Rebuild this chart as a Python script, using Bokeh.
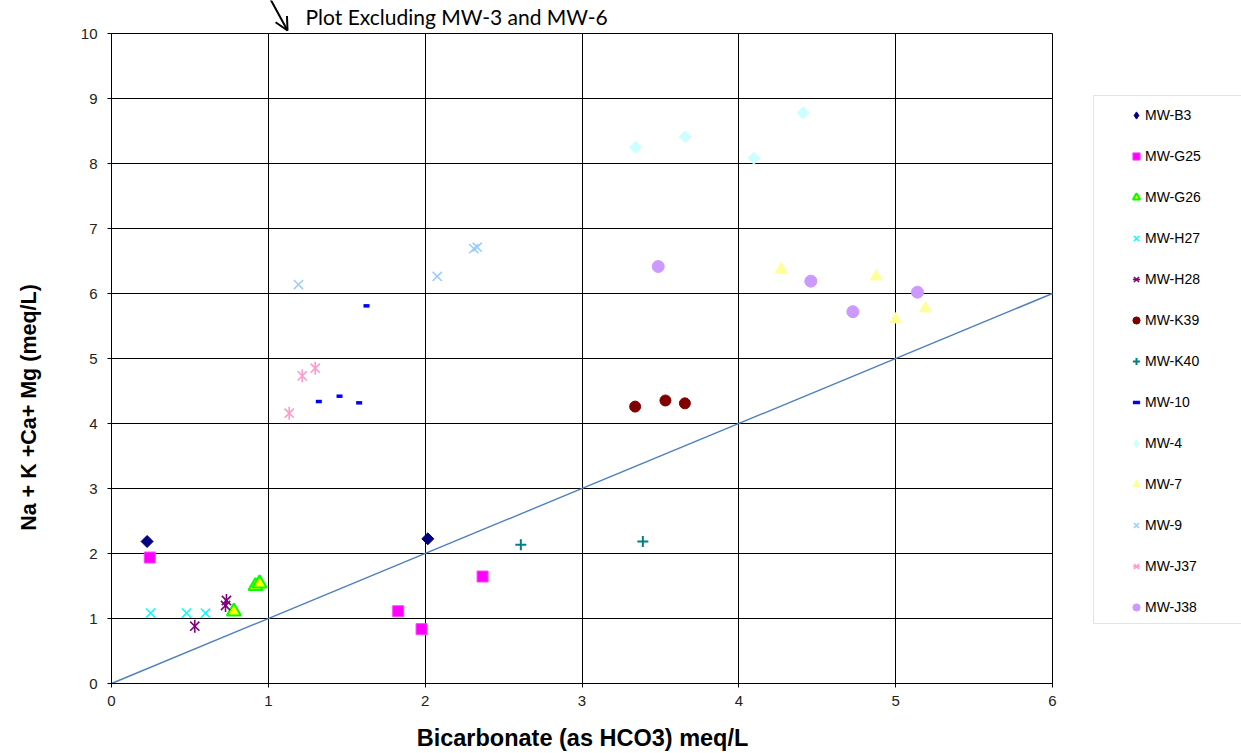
import math
from bokeh.plotting import figure
from bokeh.models import (Legend, LegendItem, Label, Arrow, OpenHead, FixedTicker,
                          Range1d, Grid, BoxAnnotation)
from bokeh.embed import file_html
from bokeh.resources import INLINE

# Bicarbonate (x) vs sum of cations (y), meq/L, one pair of lists per well
b3_x = [0.227, 2.017]
b3_y = [2.185, 2.226]
g25_x = [0.244, 1.828, 1.977, 2.366]
g25_y = [1.938, 1.112, 0.836, 1.646]
g26_x = [0.780, 0.918, 0.944]
g26_y = [1.108, 1.500, 1.540]
h27_x = [0.249, 0.478, 0.599]
h27_y = [1.082, 1.082, 1.082]
h28_x = [0.531, 0.733, 0.727]
h28_y = [0.882, 1.277, 1.200]
k39_x = [3.339, 3.532, 3.656]
k39_y = [4.260, 4.354, 4.310]
k40_x = [2.610, 3.388]
k40_y = [2.134, 2.185]
mw10_x = [1.626, 1.322, 1.454, 1.579]
mw10_y = [5.810, 4.338, 4.420, 4.318]
mw4_x = [3.341, 3.658, 4.096, 4.410]
mw4_y = [8.250, 8.410, 8.080, 8.780]
mw7_x = [4.270, 4.876, 5.000, 5.190]
mw7_y = [6.370, 6.260, 5.600, 5.770]
mw9_x = [1.192, 2.077, 2.310, 2.332]
mw9_y = [6.138, 6.262, 6.690, 6.712]
j37_x = [1.133, 1.216, 1.299]
j37_y = [4.159, 4.733, 4.851]
j38_x = [3.486, 4.459, 4.727, 5.139]
j38_y = [6.415, 6.190, 5.720, 6.020]

# 1:1 reference line
line_x = [0, 6]
line_y = [0, 6]

x_ticks = [0, 1, 2, 3, 4, 5, 6]
y_ticks = [0, 1, 2, 3, 4, 5, 6, 7, 8, 9, 10]
x_bounds = (0, 6)
y_bounds = (0, 10)

FONT = "Liberation Sans"
W, H = 1241, 753
# plotting box inside the canvas (pixels from the left / from the top)
BOX_L, BOX_R, BOX_T, BOX_B = 111, 1052, 33, 683

# the frame fills the whole canvas; the axes sit at fixed data locations
px_x = (BOX_R - BOX_L) / (x_bounds[1] - x_bounds[0])
px_y = (BOX_B - BOX_T) / (y_bounds[1] - y_bounds[0])
x_range = Range1d(x_bounds[0] - BOX_L / px_x, x_bounds[1] + (W - BOX_R) / px_x)
y_range = Range1d(y_bounds[0] - (H - BOX_B) / px_y, y_bounds[1] + BOX_T / px_y)

p = figure(width=W, height=H, output_backend="svg", toolbar_location=None,
           x_range=x_range, y_range=y_range,
           min_border=0, min_border_left=0, min_border_right=0,
           min_border_top=0, min_border_bottom=0)
p.background_fill_color = "white"
p.border_fill_color = "white"
p.outline_line_color = None

for ax, ticks, bnds in ((p.xaxis, x_ticks, x_bounds), (p.yaxis, y_ticks, y_bounds)):
    ax.fixed_location = 0
    ax.bounds = bnds
    ax.ticker = FixedTicker(ticks=ticks)
    ax.axis_line_color = "black"
    ax.major_tick_line_color = "black"
    ax.major_tick_out = 4
    ax.major_tick_in = 0
    ax.minor_tick_line_color = None
    ax.major_label_text_font = FONT
    ax.major_label_text_font_size = "15px"
    ax.major_label_text_color = "#222222"
p.xaxis.major_label_standoff = 8
p.yaxis.major_label_standoff = 10

has_cross = "cross_bounds" in Grid.properties()
for g, bnds, cross in ((p.xgrid, x_bounds, y_bounds), (p.ygrid, y_bounds, x_bounds)):
    g.bounds = bnds
    if has_cross:
        g.cross_bounds = cross
        g.grid_line_color = "black"
        g.grid_line_alpha = 1.0
        g.grid_line_width = 1
    else:
        g.grid_line_color = None
if not has_cross:
    p.segment(x0=x_ticks, y0=[y_bounds[0]] * len(x_ticks), x1=x_ticks,
              y1=[y_bounds[1]] * len(x_ticks), line_color="black", line_width=1)
    p.segment(x0=[x_bounds[0]] * len(y_ticks), y0=y_ticks, x1=[x_bounds[1]] * len(y_ticks),
              y1=y_ticks, line_color="black", line_width=1)

p.line(line_x, line_y, line_color="#4F81BD", line_width=1.4)

items = []

def add(label, renderers):
    items.append(LegendItem(label=label, renderers=renderers))

d = math.pi / 4
# diamond wells: an upright diamond (used as the legend key) under a rotated square
add("MW-B3", [p.scatter(b3_x, b3_y, marker="diamond", size=9,
                        fill_color="#000080", line_color="#000080")])
p.scatter(b3_x, b3_y, marker="square", angle=d, size=8.5,
          fill_color="#000080", line_color="#000080")
add("MW-G25", [p.scatter(g25_x, g25_y, marker="square", size=11,
                         fill_color="#FF00FF", line_color="#FF44FF")])
add("MW-G26", [p.scatter(g26_x, g26_y, marker="triangle", size=14,
                         fill_color="#FFFF00", line_color="#00FF00", line_width=2)])
add("MW-H27", [p.scatter(h27_x, h27_y, marker="x", size=13,
                         line_color="#00FFFF", line_width=1.5)])
add("MW-H28", [p.scatter(h28_x, h28_y, marker="x", size=13, line_color="#800080", line_width=1.6),
               p.scatter(h28_x, h28_y, marker="dash", angle=math.pi / 2, size=13,
                         line_color="#800080", line_width=1.6)])
add("MW-K39", [p.scatter(k39_x, k39_y, marker="circle", size=11,
                         fill_color="#800000", line_color="#800000")])
add("MW-K40", [p.scatter(k40_x, k40_y, marker="cross", size=11,
                         line_color="#008080", line_width=2)])
add("MW-10", [p.scatter(mw10_x, mw10_y, marker="dash", size=6,
                        line_color="#0000FF", line_width=3.5)])
add("MW-4", [p.scatter(mw4_x, mw4_y, marker="diamond", size=9,
                       fill_color="#CCFFFF", line_color="#CCFFFF")])
p.scatter(mw4_x, mw4_y, marker="square", angle=d, size=8.5,
          fill_color="#CCFFFF", line_color="#CCFFFF")
add("MW-7", [p.scatter(mw7_x, mw7_y, marker="triangle", size=12,
                       fill_color="#FFFF99", line_color="#FFFF99")])
add("MW-9", [p.scatter(mw9_x, mw9_y, marker="x", size=13,
                       line_color="#99CCFF", line_width=1.5)])
add("MW-J37", [p.scatter(j37_x, j37_y, marker="x", size=13, line_color="#FF99CC", line_width=1.6),
               p.scatter(j37_x, j37_y, marker="dash", angle=math.pi / 2, size=13,
                         line_color="#FF99CC", line_width=1.6)])
add("MW-J38", [p.scatter(j38_x, j38_y, marker="circle", size=12,
                         fill_color="#CC99FF", line_color="#CC99FF")])

# legend frame, open to the right edge of the canvas
p.add_layout(BoxAnnotation(left=1093, right=W + 20, top=H - 95, bottom=H - 623,
                           left_units="screen", right_units="screen",
                           top_units="screen", bottom_units="screen",
                           fill_color="white", fill_alpha=1.0,
                           line_color="#A6A6A6", line_width=1))

legend = Legend(items=items, location=(1127, H - 617))
legend.border_line_color = None
legend.background_fill_alpha = 0
legend.padding = 10
legend.spacing = 21
legend.glyph_height = 20
legend.label_height = 20
legend.glyph_width = 18
legend.label_standoff = 0
legend.label_text_font = FONT
legend.label_text_font_size = "14px"
legend.label_text_color = "black"
legend.margin = 0
p.add_layout(legend)

# axis titles
p.add_layout(Label(x=582, y=H - 737, x_units="screen", y_units="screen",
                   text="Bicarbonate (as HCO3) meq/L", text_align="center",
                   text_baseline="middle", text_font=FONT, text_font_style="bold",
                   text_font_size="23.5px", text_color="black"))
p.add_layout(Label(x=28, y=H - 407, x_units="screen", y_units="screen",
                   text="Na + K +Ca+ Mg (meq/L)", angle=math.pi / 2,
                   text_align="center", text_baseline="middle", text_font=FONT,
                   text_font_style="bold", text_font_size="21.5px", text_color="black"))

# note above the plotting box
p.add_layout(Label(x=305, y=H - 16, x_units="screen", y_units="screen",
                   text="Plot Excluding MW-3 and MW-6", text_baseline="middle",
                   text_font="Lato", text_font_size="21px", text_color="black"))
p.add_layout(Arrow(x_start=269, y_start=H + 3, x_end=287, y_end=H - 30,
                   start_units="screen", end_units="screen",
                   line_color="black", line_width=2,
                   end=OpenHead(size=13, line_color="black", line_width=2)))

open("out.html", "w").write(file_html(p, INLINE))
